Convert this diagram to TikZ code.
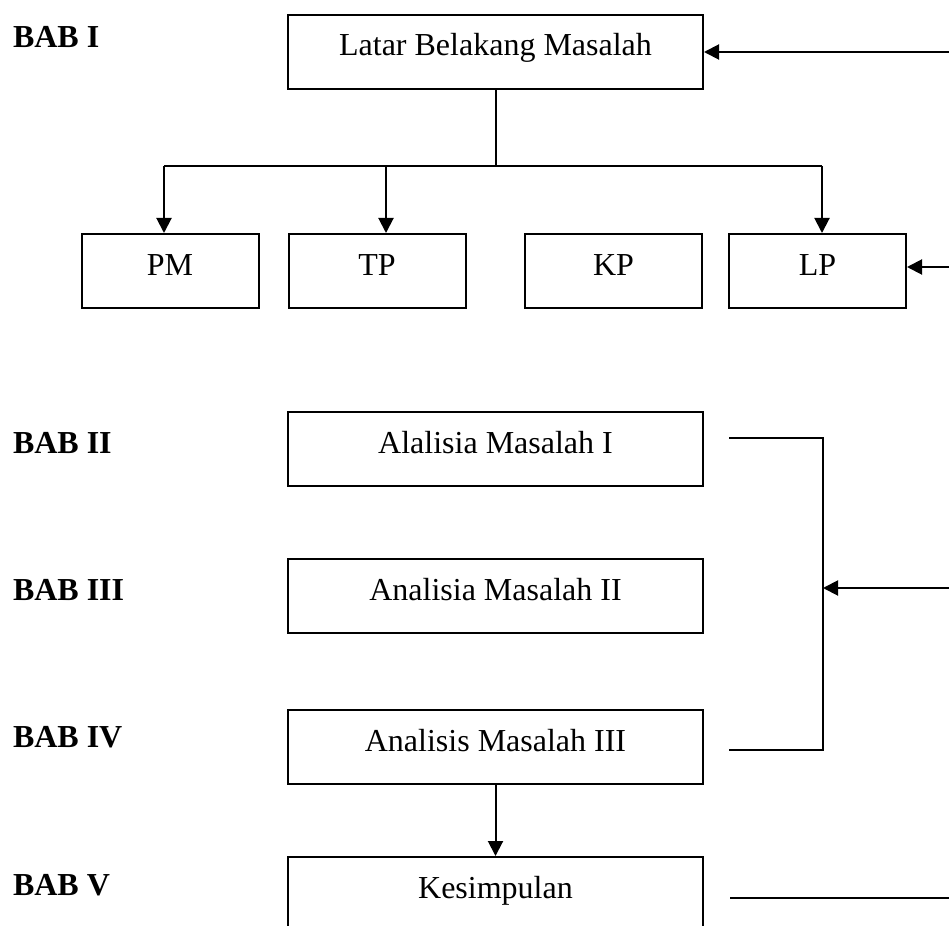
\documentclass[tikz,border=0pt]{standalone}
\usepackage{fontspec}
\setmainfont{Liberation Serif}
\usetikzlibrary{arrows.meta}
\begin{document}
\begin{tikzpicture}[x=1pt,y=-1pt,
  line width=2pt,
  box/.style={draw, rectangle, inner sep=0pt, anchor=base,
    text height=41pt, text depth=33pt, font=\fontsize{32}{38}\selectfont},
  wide/.style={box, minimum width=415pt},
  small/.style={box, minimum width=177pt},
  bab/.style={anchor=base west, inner sep=0pt, font=\fontsize{32}{38}\selectfont\bfseries},
  arr/.style={-{Triangle[length=15pt,width=15pt]}}]
\useasboundingbox (0,0) rectangle (949,925);
\fill[white] (0,0) rectangle (949,925);
\clip (0,0) rectangle (949,925);

% chapter labels
\node[bab] (b1) at (12,48) {BAB I};
\node[bab] (b2) at (12,453) {BAB II};
\node[bab] (b3) at (12,600) {BAB III};
\node[bab] (b4) at (12,747) {BAB IV};
\node[bab] (b5) at (12,895) {BAB V};

% boxes
\node[wide] (lbm) at (495.5,56) {Latar Belakang Masalah};
\node[small] (pm) at (170,275) {PM};
\node[small] (tp) at (377,275) {TP};
\node[small] (kp) at (613.5,275) {KP};
\node[small] (lp) at (817.5,275) {LP};
\node[wide] (a1) at (495.5,453) {Alalisia Masalah I};
\node[wide] (a2) at (495.5,600) {Analisia Masalah II};
\node[wide] (a3) at (495.5,751) {Analisis Masalah III};
\node[wide] (kes) at (495.5,898) {Kesimpulan};

% coordinates
\coordinate (r1) at (949,52);
\coordinate (r2) at (949,267);
\coordinate (r3) at (949,588);
\coordinate (r4) at (949,898);
\coordinate (j1) at (164,166);
\coordinate (j2) at (386,166);
\coordinate (j3) at (822,166);
\coordinate (t1) at (729,438);
\coordinate (t2) at (823,438);
\coordinate (t3) at (823,750);
\coordinate (t4) at (729,750);
\coordinate (k1) at (730,898);

% connectors
\draw[arr] (r1) -- (lbm.east |- r1);
\draw (lbm.south) -- (lbm.south |- j1);
\draw (j1) -- (j3);
\draw[arr] (j1) -- (j1 |- pm.north);
\draw[arr] (j2) -- (j2 |- tp.north);
\draw[arr] (j3) -- (j3 |- lp.north);
\draw[arr] (r2) -- (lp.east |- r2);
\draw (t1) -- (t2) -- (t3) -- (t4);
\draw[arr] (r3) -- (t2 |- r3);
\draw[arr] (a3.south) -- (kes.north);
\draw (k1) -- (r4);
\end{tikzpicture}
\end{document}
